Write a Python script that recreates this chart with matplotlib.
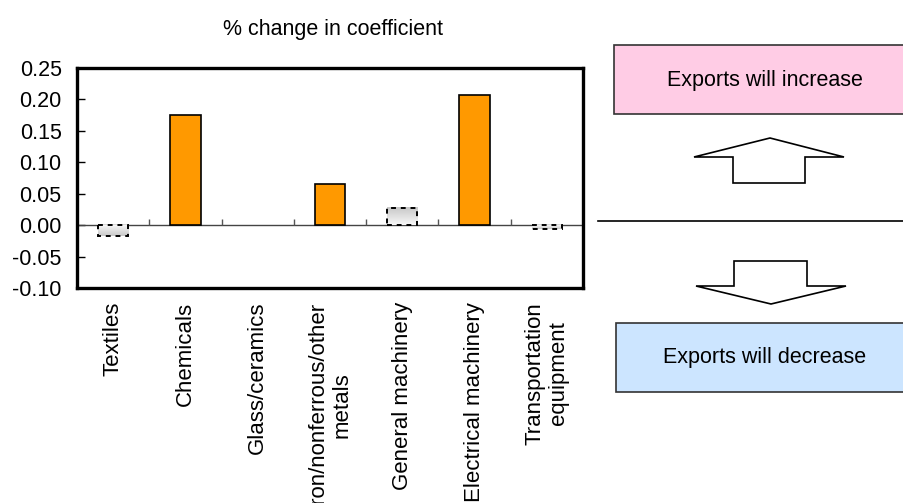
import numpy as np
import matplotlib
matplotlib.use("Agg")
import matplotlib.pyplot as plt
from matplotlib.patches import Rectangle, Polygon

plt.rcParams['font.family'] = ['Liberation Sans', 'DejaVu Sans']

# Data
categories = ["Textiles", "Chemicals", "Glass/ceramics", "Iron/nonferrous/other\nmetals",
              "General machinery", "Electrical machinery", "Transportation\nequipment"]
pct_change = [-0.017, 0.175, 0.0, 0.066, 0.028, 0.207, -0.006]
significant = [False, True, False, True, False, True, False]
y_ticks = [-0.10, -0.05, 0.00, 0.05, 0.10, 0.15, 0.20, 0.25]

W, H = 904, 503
FS = 15.5
fig = plt.figure(figsize=(W / 100, H / 100), dpi=100)

# Main bar chart
ax = fig.add_axes([77 / W, (H - 288) / H, 506 / W, 220 / H])
x = np.arange(len(categories))

bar_w = 0.42
for xi, v, sig in zip(x, pct_change, significant):
    if v == 0:
        continue
    if sig:
        ax.bar(xi, v, width=bar_w, color="#FF9900", edgecolor="black", linewidth=1.2, zorder=3)
    else:
        bars = ax.bar(xi, v, width=bar_w, color="none", edgecolor="black",
                      linewidth=1.4, linestyle=(0, (2.5, 2.5)), zorder=4)
        b = bars[0]
        x0, w = b.get_x(), b.get_width()
        y0, h = b.get_y(), b.get_height()
        grad = np.linspace(0.78, 0.97, 64).reshape(-1, 1)
        ax.imshow(grad, cmap="gray", vmin=0, vmax=1, aspect="auto",
                  extent=(x0, x0 + w, min(y0, y0 + h), max(y0, y0 + h)),
                  origin="upper" if v > 0 else "lower", zorder=3)

ax.set_xlim(-0.5, len(categories) - 0.5)
ax.set_ylim(y_ticks[0], y_ticks[-1])

# zero line and category separators
ax.axhline(0, color="#444444", linewidth=1.0, zorder=2)
boundaries = x[:-1] + 0.5
ax.vlines(boundaries, 0, 0.01, color="#555555", linewidth=1.0, zorder=2)

ax.set_yticks(y_ticks)
ax.set_yticklabels([f"{t:.2f}" for t in y_ticks], fontsize=FS)
ax.tick_params(axis="y", direction="in", length=6, width=1, pad=11)
ax.set_xticks(x)
ax.set_xticklabels(categories, rotation=90, fontsize=16, va="top", ha="center",
                   multialignment="center")
ax.tick_params(axis="x", length=0, pad=10)
for s in ax.spines.values():
    s.set_linewidth(2.4)
    s.set_color("black")

fig.text(333 / W, 1 - 29 / H, "% change in coefficient", ha="center", va="center", fontsize=FS)

# Explanatory panel on the right
ov = fig.add_axes([0, 0, 1, 1], facecolor="none")
ov.set_xlim(0, W)
ov.set_ylim(H, 0)
ov.axis("off")

ov.add_patch(Rectangle((614, 45), 320, 69, facecolor="#FFCCE5", edgecolor="#333333", linewidth=1.2))
ov.text(765, 80, "Exports will increase", ha="center", va="center", fontsize=FS)
ov.add_patch(Rectangle((616, 323), 320, 69, facecolor="#CCE5FF", edgecolor="#333333", linewidth=1.2))
ov.text(765, 357, "Exports will decrease", ha="center", va="center", fontsize=FS)

ov.plot([598, 904], [221, 221], color="black", linewidth=1.2)

up = [(770, 138), (844, 157), (805, 157), (805, 183), (733, 183), (733, 157), (694, 157)]
down = [(771, 304), (846, 286), (807, 286), (807, 261), (734, 261), (734, 286), (696, 286)]
ov.add_patch(Polygon(up, closed=True, facecolor="white", edgecolor="black", linewidth=1.2))
ov.add_patch(Polygon(down, closed=True, facecolor="white", edgecolor="black", linewidth=1.2))

fig.savefig("out.png", dpi=100)
